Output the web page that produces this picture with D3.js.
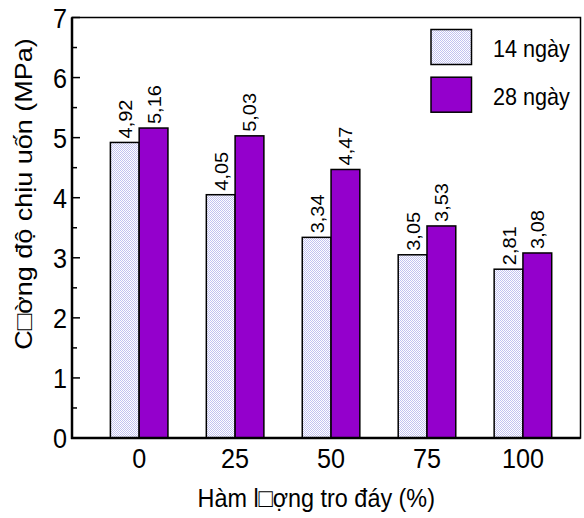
<!DOCTYPE html>
<html>
<head>
<meta charset="utf-8">
<script src="https://cdn.jsdelivr.net/npm/d3@7"></script>
<style>
  html, body { margin: 0; padding: 0; background: #fff; }
  text { font-family: "Liberation Sans", Arial, sans-serif; fill: #000; }
</style>
</head>
<body>
<svg id="chart" width="584" height="518"></svg>
<script>
// Flexural strength by bottom-ash content
const categories = [0, 25, 50, 75, 100];
const days14 = [4.92, 4.05, 3.34, 3.05, 2.81];
const days28 = [5.16, 5.03, 4.47, 3.53, 3.08];
const seriesNames = ["14 ngày", "28 ngày"];
const yTicks = [0, 1, 2, 3, 4, 5, 6, 7];
const yMinorTicks = [0.5, 1.5, 2.5, 3.5, 4.5, 5.5, 6.5];
const xTitle = "Hàm l\u25A1ợng tro đáy (%)";
const yTitle = "C\u25A1ờng độ chịu uốn (MPa)";

const svg = d3.select("#chart");
const W = 584, H = 518;
const m = { left: 72, right: 3.5, top: 17.5, bottom: 80 };
const sx = 0.9; // text is drawn slightly condensed

const x = d3.scaleLinear().domain([-17.5, 115]).range([m.left, W - m.right]);
const y = d3.scaleLinear().domain([0, 7]).range([H - m.bottom, m.top]);
const barW = 7.5; // bar width in x-axis units

const defs = svg.append("defs");
const pat = defs.append("pattern")
  .attr("id", "dots")
  .attr("patternUnits", "userSpaceOnUse")
  .attr("width", 2).attr("height", 2);
pat.append("rect").attr("width", 2).attr("height", 2).attr("fill", "#ffffff");
pat.append("rect").attr("width", 1).attr("height", 1).attr("fill", "#c2c2f0");
pat.append("rect").attr("x", 1).attr("y", 1).attr("width", 1).attr("height", 1).attr("fill", "#c2c2f0");

const fills = ["url(#dots)", "#9400cc"];

// bars
const series = [days14, days28];
series.forEach((vals, s) => {
  const g = svg.append("g");
  g.selectAll("rect")
    .data(categories.map((c, i) => ({ c, v: vals[i] })))
    .join("rect")
    .attr("x", d => s === 0 ? x(d.c - barW) : x(d.c))
    .attr("width", d => x(d.c + barW) - x(d.c))
    .attr("y", d => y(d.v))
    .attr("height", d => y(0) - y(d.v))
    .attr("fill", fills[s])
    .attr("stroke", "#000")
    .attr("stroke-width", 1.5);

  // value labels, rotated
  g.selectAll("text")
    .data(categories.map((c, i) => ({ c, v: vals[i] })))
    .join("text")
    .attr("transform", d => {
      const cx = s === 0 ? (x(d.c - barW) + x(d.c)) / 2 : (x(d.c) + x(d.c + barW)) / 2;
      return `translate(${cx + 7},${y(d.v) - 4}) rotate(-90) scale(1,${sx})`;
    })
    .attr("font-size", 20)
    .text(d => d3.format(".2f")(d.v).replace(".", ","));
});

// frame
svg.append("rect")
  .attr("x", m.left).attr("y", m.top)
  .attr("width", W - m.right - m.left).attr("height", y(0) - m.top)
  .attr("fill", "none").attr("stroke", "#000").attr("stroke-width", 1.5);
svg.append("line")
  .attr("x1", m.left).attr("x2", m.left).attr("y1", m.top).attr("y2", y(0) + 1)
  .attr("stroke", "#000").attr("stroke-width", 2.5);
svg.append("line")
  .attr("x1", m.left - 1).attr("x2", W - m.right).attr("y1", y(0)).attr("y2", y(0))
  .attr("stroke", "#000").attr("stroke-width", 2.5);

// y ticks (inside) and labels
svg.append("g").selectAll("line.major").data(yTicks).join("line")
  .attr("x1", m.left).attr("x2", m.left + 8)
  .attr("y1", d => y(d)).attr("y2", d => y(d))
  .attr("stroke", "#000").attr("stroke-width", 1.5);
svg.append("g").selectAll("line.minor").data(yMinorTicks).join("line")
  .attr("x1", m.left).attr("x2", m.left + 5)
  .attr("y1", d => y(d)).attr("y2", d => y(d))
  .attr("stroke", "#000").attr("stroke-width", 1.5);
svg.append("g").selectAll("text").data(yTicks).join("text")
  .attr("transform", d => `translate(${m.left - 5},${y(d) + 10}) scale(${sx},1)`)
  .attr("text-anchor", "end")
  .attr("font-size", 28)
  .text(d => d);

// x labels
svg.append("g").selectAll("text").data(categories).join("text")
  .attr("transform", d => `translate(${x(d)},${y(0) + 30}) scale(${sx},1)`)
  .attr("text-anchor", "middle")
  .attr("font-size", 28)
  .text(d => d);

// axis titles
svg.append("text")
  .attr("transform", `translate(${(m.left + W - m.right) / 2 - 10},507) scale(${sx},1)`)
  .attr("text-anchor", "middle")
  .attr("font-size", 26)
  .text(xTitle);
svg.append("text")
  .attr("transform", `translate(32,194) rotate(-90) scale(1,${sx})`)
  .attr("text-anchor", "middle")
  .attr("font-size", 27)
  .text(yTitle);

// legend
const lg = svg.append("g");
seriesNames.forEach((name, i) => {
  const top = 29.5 + i * 47.7;
  lg.append("rect")
    .attr("x", 431).attr("y", top)
    .attr("width", 40.5).attr("height", 35)
    .attr("fill", fills[i]).attr("stroke", "#000").attr("stroke-width", 1.5);
  lg.append("text")
    .attr("transform", `translate(493,${top + 27.5}) scale(${sx},1)`)
    .attr("font-size", 24)
    .text(name);
});
</script>
</body>
</html>
